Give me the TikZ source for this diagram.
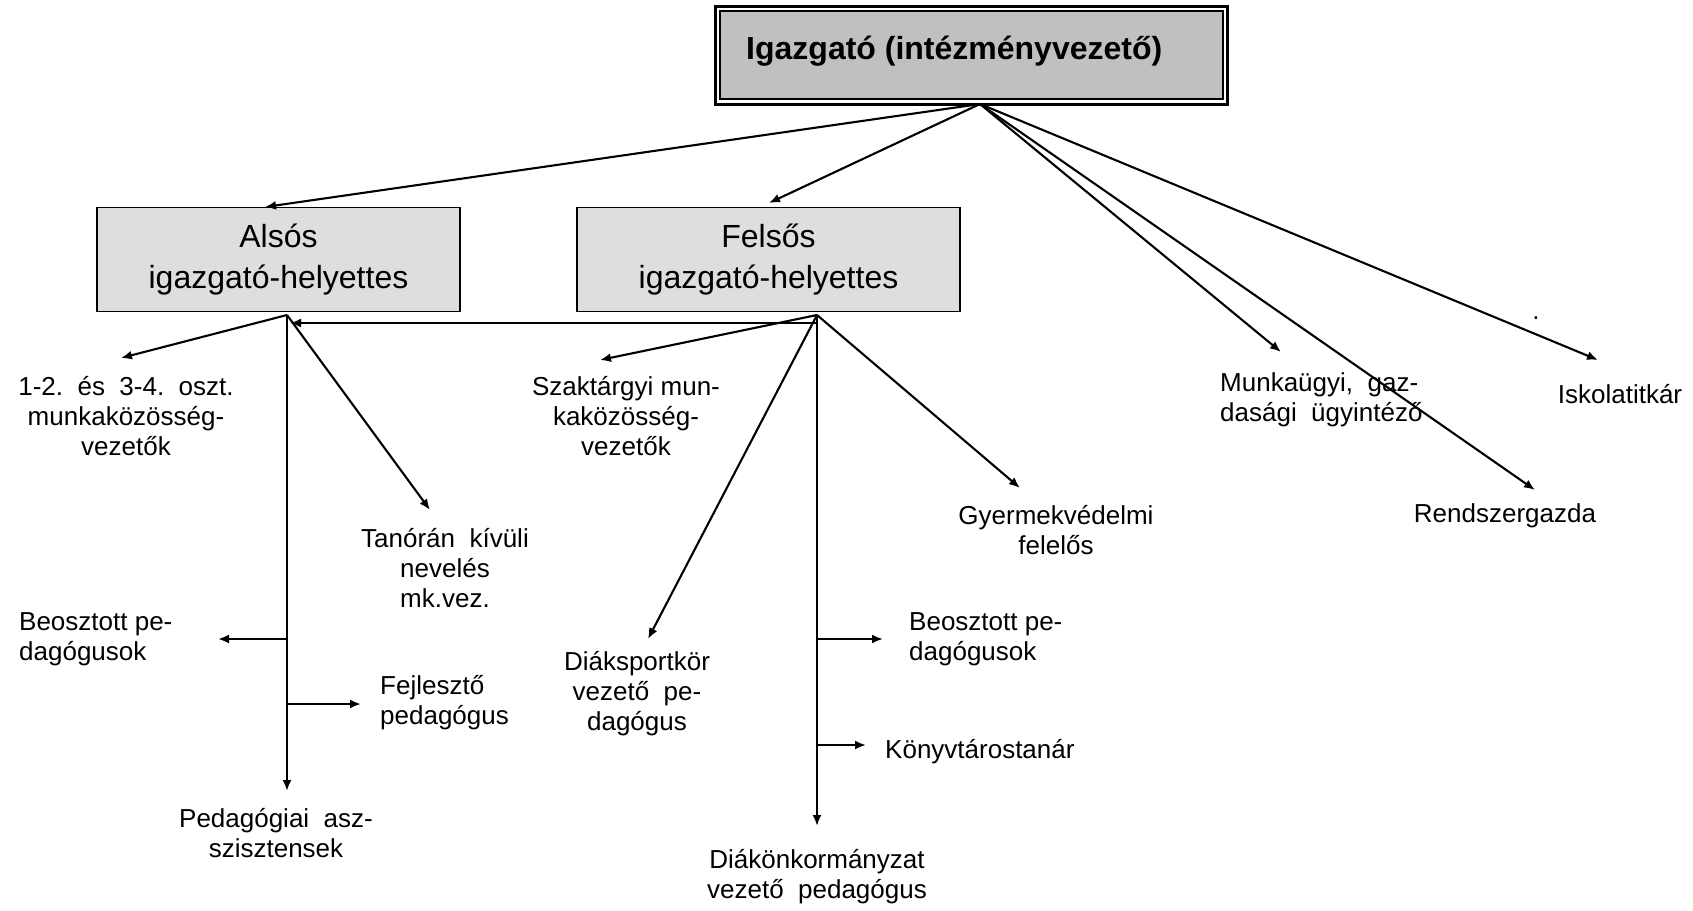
\documentclass[tikz,border=0pt]{standalone}
\usepackage{fontspec}
\setmainfont{Liberation Sans}
\usetikzlibrary{arrows.meta}
\definecolor{topgray}{HTML}{C0C0C0}
\definecolor{boxgray}{HTML}{DEDEDE}
\tikzset{
  arr/.style={-{Latex[length=11pt,width=9pt]}, line width=2.1pt},
  lbl/.style={font=\fontsize{26}{30}\selectfont, inner sep=0pt, align=center},
  lblL/.style={font=\fontsize{26}{30}\selectfont, inner sep=0pt, align=left, anchor=west},
  subbox/.style={draw, line width=1.6pt, fill=boxgray, font=\fontsize{32}{41}\selectfont, align=center, inner sep=0pt}
}
\begin{document}
\begin{tikzpicture}[x=1pt,y=-1pt]
\useasboundingbox (0,0) rectangle (1693,910);
% top box
\draw[line width=3pt, fill=white] (715.5,6) rectangle (1227.5,104);
\draw[line width=2pt, fill=topgray] (720,11) rectangle (1223,99);
\node[anchor=west, inner sep=0pt, font=\fontsize{32}{38}\selectfont\bfseries] (top) at (746,51) {Igazgató (intézményvezető)};
\coordinate (topB) at (980,104);
% sub boxes
\node[subbox, minimum width=363pt, minimum height=104pt] (als) at (278.5,259.5) {Alsós\\igazgató-helyettes};
\node[subbox, minimum width=383pt, minimum height=104pt] (fel) at (768.5,259.5) {Felsős\\igazgató-helyettes};
\coordinate (alsB) at (287,315);
\coordinate (felB) at (817,315);
% labels
\node[lbl] (oszt) at (126,416) {1-2.\ \ és\ \ 3-4.\ \ oszt.\\munkaközösség-\\vezetők};
\node[lbl] (tan) at (445,568) {Tanórán\ \ kívüli\\nevelés\\mk.vez.};
\node[lbl] (szak) at (626,416) {Szaktárgyi mun-\\kaközösség-\\vezetők};
\node[lbl] (gyer) at (1056,530) {Gyermekvédelmi\\felelős};
\node[lblL] (munk) at (1220,400) {Munkaügyi,\ \ gaz-\\dasági\ \ ügyintéző};
\node[lbl] (isk) at (1620,394) {Iskolatitkár};
\node[lbl] (rend) at (1505,516) {Rendszergazda};
\node[inner sep=0pt, font=\fontsize{26}{30}\selectfont] (dot) at (1536,318) {.};
\node[lblL] (beo1) at (19,639) {Beosztott pe-\\dagógusok};
\node[lblL] (fej) at (380,703) {Fejlesztő\\pedagógus};
\node[lbl] (ped) at (276,833) {Pedagógiai\ \ asz-\\szisztensek};
\node[lbl] (dsk) at (637,694) {Diáksportkör\\vezető\ \ pe-\\dagógus};
\node[lblL] (beo2) at (909,639) {Beosztott pe-\\dagógusok};
\node[lblL] (konyv) at (885,752) {Könyvtárostanár};
\node[lbl] (dok) at (817,877) {Diákönkormányzat\\vezető\ \ pedagógus};
% arrow tip coordinates
\coordinate (tAls) at (265,207);
\coordinate (tFel) at (769,203);
\coordinate (tMunk) at (1281,352);
\coordinate (tRend) at (1535,490);
\coordinate (tIsk) at (1598,360);
\coordinate (tOszt) at (121,358);
\coordinate (tTan) at (430,510);
\coordinate (aV) at (287,791);
\coordinate (aH) at (290,323);
\coordinate (fH) at (817,323);
\coordinate (a1) at (287,639);
\coordinate (t1) at (218,639);
\coordinate (a2) at (287,704);
\coordinate (t2) at (361,704);
\coordinate (tSzak) at (600,360);
\coordinate (tDsk) at (648,639);
\coordinate (tGyer) at (1020,488);
\coordinate (fV) at (817,826);
\coordinate (f1) at (817,639);
\coordinate (tf1) at (883,639);
\coordinate (f2) at (817,745);
\coordinate (tf2) at (866,745);
% connectors from top
\draw[arr] (topB) -- (tAls);
\draw[arr] (topB) -- (tFel);
\draw[arr] (topB) -- (tMunk);
\draw[arr] (topB) -- (tRend);
\draw[arr] (topB) -- (tIsk);
% Alsós
\draw[arr] (alsB) -- (tOszt);
\draw[arr] (alsB) -- (tTan);
\draw[arr] (alsB) -- (aV);
\draw[arr] (a1) -- (t1);
\draw[arr] (a2) -- (t2);
% Felsős
\draw[arr] (fH) -- (aH);
\draw[arr] (felB) -- (tSzak);
\draw[arr] (felB) -- (tDsk);
\draw[arr] (felB) -- (tGyer);
\draw[arr] (felB) -- (fV);
\draw[arr] (f1) -- (tf1);
\draw[arr] (f2) -- (tf2);
\end{tikzpicture}
\end{document}
